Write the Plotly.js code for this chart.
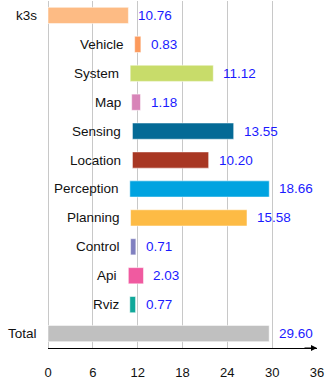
<!DOCTYPE html>
<html>
<head>
<meta charset="utf-8">
<script src="https://cdn.plot.ly/plotly-3.0.1.min.js"></script>
<style>
  html, body { margin: 0; padding: 0; background: #fff; }
  #plot { width: 334px; height: 384px; }
</style>
</head>
<body>
<div id="plot"></div>
<script>
// components and their time (the bar length), top to bottom
const names = ["k3s", "Vehicle", "System", "Map", "Sensing", "Location",
               "Perception", "Planning", "Control", "Api", "Rviz", "Total"];
const values = [10.76, 0.83, 11.12, 1.18, 13.55, 10.20,
                18.66, 15.58, 0.71, 2.03, 0.77, 29.60];
// where each bar starts on the axis
const starts = [0, 11.6, 11.0, 11.2, 11.3, 11.3,
                10.95, 11.05, 11.05, 10.75, 10.95, 0];
const colors = ["#fdbb84", "#fc9a5c", "#c8dc6a", "#d884b8", "#046a96", "#a83723",
                "#00a3e0", "#fdbb45", "#8080c0", "#f05aa0", "#10a89a", "#c0c0c0"];
const xTicks = [0, 6, 12, 18, 24, 30, 36];

const rows = names.map((n, i) => i);
const labelFont = { family: "Liberation Sans, Arial, sans-serif", size: 13.5 };

const data = [{
    type: "bar",
    orientation: "h",
    y: rows,
    x: values,
    base: starts,
    width: 0.56,
    marker: { color: colors, line: { color: "rgba(255,255,255,0.5)", width: 1 } },
    hoverinfo: "skip"
}];

let annotations = [];
names.forEach((n, i) => {
    // name on the left of the bar
    annotations.push({
        x: starts[i], y: i, xref: "x", yref: "y",
        text: n, showarrow: false, xanchor: "right", xshift: -9,
        font: Object.assign({ color: "#111" }, labelFont)
    });
    // value on the right of the bar
    annotations.push({
        x: starts[i] + values[i], y: i, xref: "x", yref: "y",
        text: values[i].toFixed(2), showarrow: false, xanchor: "left", xshift: 8,
        font: Object.assign({ color: "#1a1aff" }, labelFont)
    });
});
// arrow head at the end of the x axis
annotations.push({
    x: 36, y: 0, xref: "x", yref: "paper", text: "",
    showarrow: true, ax: -14, ay: 0, arrowhead: 2, arrowsize: 1,
    arrowwidth: 1.2, arrowcolor: "#000"
});

const layout = {
    width: 334,
    height: 384,
    margin: { l: 48, r: 17, t: 1, b: 36 },
    paper_bgcolor: "#fff",
    plot_bgcolor: "#fff",
    showlegend: false,
    xaxis: {
        range: [0, 36],
        tickvals: xTicks,
        ticktext: xTicks.map(String),
        showgrid: true,
        gridcolor: "#c8c8c8",
        gridwidth: 1,
        zeroline: true,
        zerolinecolor: "#c8c8c8",
        showline: true,
        linecolor: "#000",
        linewidth: 1.2,
        ticks: "outside",
        ticklen: 12,
        tickcolor: "rgba(0,0,0,0)",
        tickfont: { family: "Liberation Sans, Arial, sans-serif", size: 13, color: "#111" },
        fixedrange: true
    },
    yaxis: {
        range: [11.5, -0.5],
        visible: false,
        fixedrange: true
    },
    annotations: annotations
};

Plotly.newPlot("plot", data, layout, { displayModeBar: false, staticPlot: true });
</script>
</body>
</html>
